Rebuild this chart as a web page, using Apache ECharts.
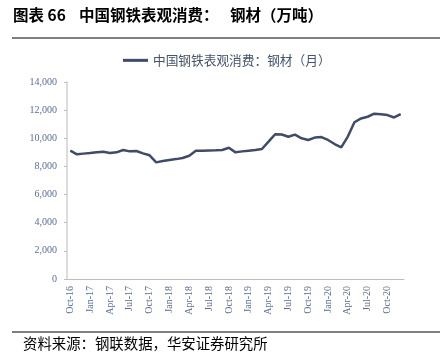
<!DOCTYPE html>
<html>
<head>
<meta charset="utf-8">
<script src="https://cdn.jsdelivr.net/npm/echarts@6/dist/echarts.min.js"></script>
<style>
  html, body { margin: 0; padding: 0; background: #fff; }
  #chart { width: 440px; height: 364px; }
</style>
</head>
<body>
<div id="chart"></div>
<script>
// 月份（Oct-16 ~ Dec-20）
var months = [
    'Oct-16','Nov-16','Dec-16',
    'Jan-17','Feb-17','Mar-17','Apr-17','May-17','Jun-17','Jul-17','Aug-17','Sep-17','Oct-17','Nov-17','Dec-17',
    'Jan-18','Feb-18','Mar-18','Apr-18','May-18','Jun-18','Jul-18','Aug-18','Sep-18','Oct-18','Nov-18','Dec-18',
    'Jan-19','Feb-19','Mar-19','Apr-19','May-19','Jun-19','Jul-19','Aug-19','Sep-19','Oct-19','Nov-19','Dec-19',
    'Jan-20','Feb-20','Mar-20','Apr-20','May-20','Jun-20','Jul-20','Aug-20','Sep-20','Oct-20','Nov-20','Dec-20'
];
// 钢材表观消费（万吨，月）
var steelUse = [
    9120, 8860, 8910,
    8950, 9000, 9050, 8960, 9000, 9170, 9070, 9100, 8930, 8790, 8290, 8390,
    8460, 8520, 8600, 8760, 9120, 9120, 9140, 9150, 9170, 9330, 9000, 9070,
    9120, 9170, 9240, 9760, 10290, 10270, 10110, 10260, 10000, 9880, 10050, 10090,
    9880, 9590, 9360, 10120, 11140, 11410, 11530, 11750, 11700, 11650, 11480, 11720
];
var seriesName = '中国钢铁表观消费：钢材（月）';

var labelColor = '#5a6d96';
var myChart = echarts.init(document.getElementById('chart'));
var titleFont = { fontSize: 15.5, fontWeight: 'bold', fontFamily: 'Noto Sans CJK SC', fill: '#000' };
var option = {
    animation: false,
    backgroundColor: '#fff',
    color: ['#3f4b67'],
    legend: {
        left: 118,
        top: 49,
        icon: 'rect',
        itemWidth: 25,
        itemHeight: 3,
        itemGap: 10,
        textStyle: {
            color: '#44546a',
            fontSize: 12.7,
            fontFamily: 'Noto Sans CJK SC'
        },
        data: [seriesName]
    },
    grid: {
        left: 67,
        right: 36,
        top: 82,
        bottom: 85
    },
    xAxis: {
        type: 'category',
        data: months,
        boundaryGap: true,
        axisLine: { lineStyle: { color: '#bfbfbf', width: 1 } },
        axisTick: { interval: 2, length: 4, lineStyle: { color: '#bfbfbf' } },
        axisLabel: {
            interval: 2,
            rotate: 90,
            margin: 7,
            padding: [0, 0, 7, 0],
            color: labelColor,
            fontSize: 10,
            fontFamily: 'Liberation Serif'
        },
        splitLine: { show: false }
    },
    yAxis: {
        type: 'value',
        min: 0,
        max: 14000,
        interval: 2000,
        axisLine: { show: true, lineStyle: { color: '#d0d0d0', width: 1.5 } },
        axisTick: { show: true, length: 3, lineStyle: { color: '#bfbfbf' } },
        axisLabel: {
            margin: 10,
            color: labelColor,
            fontSize: 10,
            fontFamily: 'Liberation Serif',
            formatter: function (v) { return v.toLocaleString('en-US'); }
        },
        splitLine: { show: false }
    },
    graphic: [
        { type: 'text', left: 13, top: 7, style: Object.assign({ text: '图表 66' }, titleFont) },
        { type: 'text', left: 79, top: 7, style: Object.assign({ text: '中国钢铁表观消费：' }, titleFont) },
        { type: 'text', left: 230, top: 7, style: Object.assign({ text: '钢材（万吨）' }, titleFont) },
        {
            type: 'line',
            shape: { x1: 12, y1: 38, x2: 440, y2: 38 },
            style: { stroke: '#000', lineWidth: 1 }
        },
        {
            type: 'line',
            shape: { x1: 12, y1: 332, x2: 440, y2: 332 },
            style: { stroke: '#000', lineWidth: 1 }
        },
        {
            type: 'text', left: 23, top: 336,
            style: {
                text: '资料来源：钢联数据，华安证券研究所',
                fontSize: 14.4,
                fontFamily: 'Noto Sans CJK SC', fill: '#000'
            }
        }
    ],
    series: [{
        name: seriesName,
        type: 'line',
        symbol: 'none',
        lineStyle: { width: 2.5 },
        data: steelUse
    }]
};
myChart.setOption(option);
window.addEventListener('resize', function () {
    myChart.resize();
});
</script>
</body>
</html>
